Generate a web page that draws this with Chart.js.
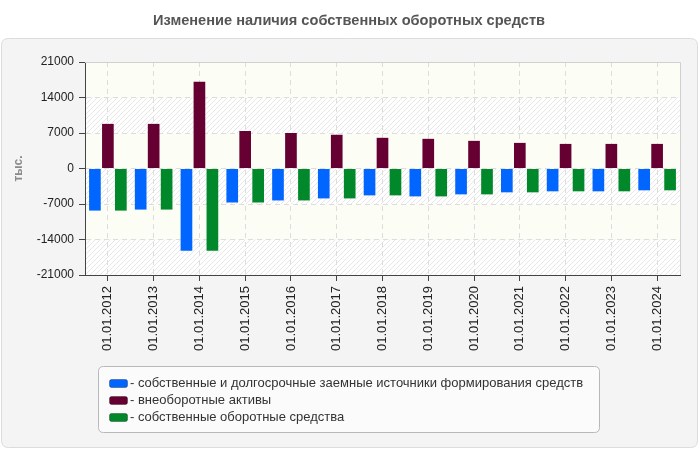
<!DOCTYPE html>
<html><head><meta charset="utf-8">
<script src="https://cdn.jsdelivr.net/npm/chart.js@4"></script>
<style>html,body{margin:0;padding:0;background:#fff;} #wrap{width:700px;height:450px;position:relative;}</style>
</head><body><div id="wrap"><canvas id="c" width="700" height="450"></canvas></div>
<script>
const chartTitle = 'Изменение наличия собственных оборотных средств';
const yAxisTitle = 'тыс.';
const categories = ['01.01.2012','01.01.2013','01.01.2014','01.01.2015','01.01.2016','01.01.2017','01.01.2018','01.01.2019','01.01.2020','01.01.2021','01.01.2022','01.01.2023','01.01.2024'];
const seriesNames = [
  '- собственные и долгосрочные заемные источники формирования средств',
  '- внеоборотные активы',
  '- собственные оборотные средства'
];
const sourcesValues = [-8300,-8100,-16200,-6700,-6300,-5900,-5300,-5500,-5100,-4700,-4500,-4500,-4300];
const nonCurrentValues = [8800,8800,17100,7400,7000,6650,6050,5850,5450,5050,4850,4850,4850];
const workingCapitalValues = [-8300,-8100,-16200,-6700,-6300,-5900,-5300,-5500,-5100,-4700,-4500,-4500,-4300];
const yTicks = [-21000,-14000,-7000,0,7000,14000,21000];
const seriesColors = ['#0066FF','#660033','#00882B'];

const FONT = "'Liberation Sans', Arial, sans-serif";

function makeHatch(){
  const p = document.createElement('canvas');
  p.width = 5; p.height = 5;
  const c = p.getContext('2d');
  c.fillStyle = '#ffffff'; c.fillRect(0,0,5,5);
  c.strokeStyle = '#e7e7e7'; c.lineWidth = 1;
  c.beginPath();
  c.moveTo(0,5); c.lineTo(5,0);
  c.moveTo(-3,3); c.lineTo(3,-3);
  c.moveTo(2,8); c.lineTo(8,2);
  c.stroke();
  return p;
}

function roundRect(ctx,x,y,w,h,r){
  ctx.beginPath();
  ctx.moveTo(x+r,y); ctx.lineTo(x+w-r,y); ctx.quadraticCurveTo(x+w,y,x+w,y+r);
  ctx.lineTo(x+w,y+h-r); ctx.quadraticCurveTo(x+w,y+h,x+w-r,y+h);
  ctx.lineTo(x+r,y+h); ctx.quadraticCurveTo(x,y+h,x,y+h-r);
  ctx.lineTo(x,y+r); ctx.quadraticCurveTo(x,y,x+r,y);
  ctx.closePath();
}

const decor = {
  id:'decor',
  beforeDraw(chart){
    const ctx = chart.ctx;
    ctx.save();
    ctx.fillStyle = '#ffffff'; ctx.fillRect(0,0,700,450);
    roundRect(ctx,1.5,38.5,696,409,7);
    ctx.fillStyle = '#f4f4f4'; ctx.fill();
    ctx.strokeStyle = '#dcdcdc'; ctx.lineWidth = 1; ctx.stroke();
    ctx.fillStyle = '#555555';
    ctx.font = 'bold 14.6px ' + FONT;
    ctx.textAlign = 'center'; ctx.textBaseline = 'middle';
    ctx.fillText(chartTitle, 349, 21);
    const a = chart.chartArea, ys = chart.scales.y;
    const pat = ctx.createPattern(makeHatch(),'repeat');
    for (let i=0;i<yTicks.length-1;i++){
      const y1 = ys.getPixelForValue(yTicks[i]);
      const y2 = ys.getPixelForValue(yTicks[i+1]);
      ctx.fillStyle = (i%2===0) ? pat : '#fcfdf5';
      ctx.fillRect(a.left, y2, a.right-a.left, y1-y2);
    }
    ctx.restore();
  },
  beforeDatasetsDraw(chart){
    const ctx = chart.ctx, a = chart.chartArea;
    ctx.save();
    ctx.strokeStyle = '#d0d0d0'; ctx.lineWidth = 1;
    ctx.beginPath();
    ctx.moveTo(a.left, a.top+0.5); ctx.lineTo(a.right+0.5, a.top+0.5);
    ctx.lineTo(a.right+0.5, a.bottom);
    ctx.stroke();
    ctx.restore();
  },
  afterDraw(chart){
    const ctx = chart.ctx;
    ctx.save();
    roundRect(ctx,98.5,366.5,501,66,5);
    ctx.fillStyle = '#fbfbfb'; ctx.fill();
    ctx.strokeStyle = '#b8b8b8'; ctx.lineWidth = 1; ctx.stroke();
    ctx.font = '13px ' + FONT;
    ctx.textBaseline = 'middle'; ctx.textAlign = 'left';
    chart.data.datasets.forEach((ds,i)=>{
      const cy = 383 + i*17;
      roundRect(ctx,109.5,cy-3.5,18,8,2);
      ctx.fillStyle = ds.backgroundColor; ctx.fill();
      ctx.strokeStyle = 'rgba(0,0,0,0.3)'; ctx.stroke();
      ctx.fillStyle = '#333333';
      ctx.fillText(ds.label, 130, cy+0.5);
    });
    ctx.restore();
  }
};

const mk = (label, data, color) => ({label, data, backgroundColor: color, borderWidth: 0,
  categoryPercentage: 0.85, barPercentage: 0.9});

new Chart(document.getElementById('c'), {
  type:'bar',
  data:{
    labels: categories,
    datasets:[
      mk(seriesNames[0], sourcesValues, seriesColors[0]),
      mk(seriesNames[1], nonCurrentValues, seriesColors[1]),
      mk(seriesNames[2], workingCapitalValues, seriesColors[2])
    ]
  },
  options:{
    responsive:false, animation:false, devicePixelRatio:1,
    layout:{padding:{left:0, top:62, right:20, bottom:75}},
    plugins:{legend:{display:false}, title:{display:false}, tooltip:{enabled:false}},
    scales:{
      x:{
        offset:true,
        afterFit(s){ s.height = 100; },
        grid:{offset:false, color:'#dddddd', tickColor:'#444444', tickLength:6, tickBorderDash:[]},
        border:{color:'#444444', dash:[5,4]},
        ticks:{minRotation:90, maxRotation:90, autoSkip:false, padding:5, color:'#222222', font:{family:FONT, size:13}}
      },
      y:{
        min:-21000, max:21000,
        afterFit(s){ s.width = 85; },
        afterBuildTicks(s){ s.ticks = yTicks.map(v=>({value:v})); },
        grid:{color:'#dddddd', tickColor:'#444444', tickLength:6, tickBorderDash:[]},
        border:{color:'#444444', dash:[5,4]},
        ticks:{padding:5, color:'#222222', font:{family:FONT, size:12}, callback:v=>String(v)},
        title:{display:true, text:yAxisTitle, color:'#8a8a8a', font:{family:FONT, size:12, weight:'bold'}, padding:{top:11,bottom:0}}
      }
    }
  },
  plugins:[decor]
});
</script>
</body></html>
